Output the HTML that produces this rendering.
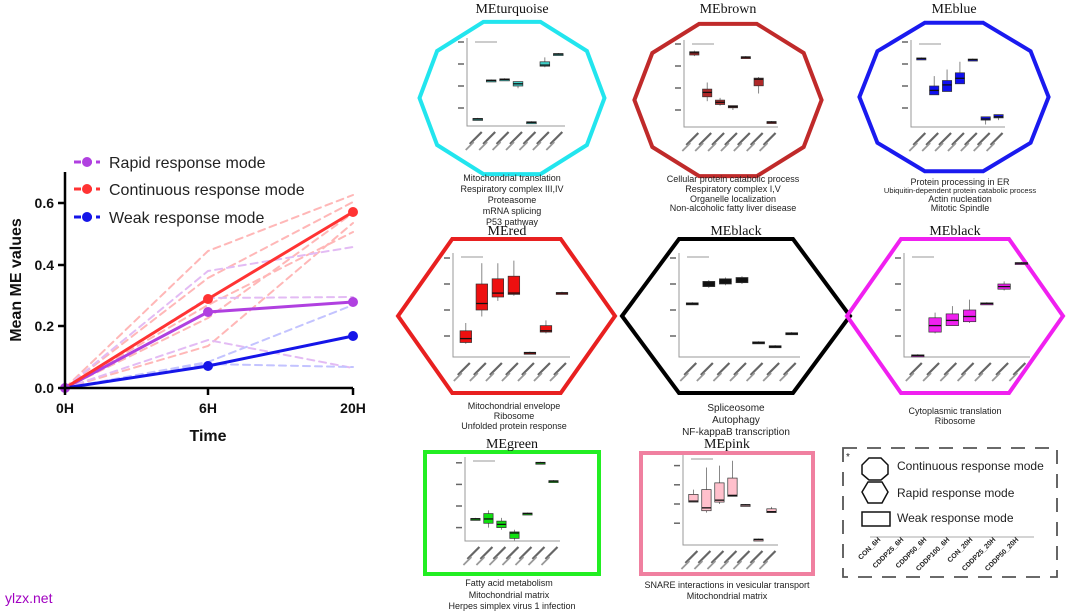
<!DOCTYPE html>
<html><head><meta charset="utf-8">
<style>
body{margin:0;background:#fff;}
svg{display:block;font-family:"Liberation Sans",Arial,sans-serif;}
.t{font-family:"Liberation Serif",serif;font-size:14px;text-anchor:middle;fill:#111}
.d{font-size:9px;text-anchor:middle;fill:#222}
</style></head><body>
<svg id="s" width="1080" height="612" viewBox="0 0 1080 612" xmlns="http://www.w3.org/2000/svg">
<rect width="1080" height="612" fill="#fff"/>
<g stroke-linecap="round">
<g fill="none" stroke-width="2" stroke-dasharray="7,5" opacity="0.35">
<polyline stroke="#f33" points="65,388 208,251 353,195"/>
<polyline stroke="#f33" points="65,388 208,278 353,202"/>
<polyline stroke="#f33" points="65,388 208,318 353,213"/>
<polyline stroke="#f33" points="65,388 208,346 353,223"/>
<polyline stroke="#f33" points="65,388 208,305 353,232"/>
<polyline stroke="#b040e0" points="65,388 208,271 353,247"/>
<polyline stroke="#b040e0" points="65,388 208,340 353,368"/>
<polyline stroke="#b040e0" points="65,388 208,298 353,297"/>
<polyline stroke="#55f" points="65,388 208,362 353,305"/>
<polyline stroke="#55f" points="65,388 208,364 353,367"/>
</g>
<polyline fill="none" stroke="#b040e0" stroke-width="3" points="65,388 208,312 353,302"/>
<polyline fill="none" stroke="#f33" stroke-width="3" points="65,388 208,299 353,212"/>
<polyline fill="none" stroke="#1515e8" stroke-width="3" points="65,388 208,366 353,336"/>
<circle cx="208" cy="312" r="5" fill="#b040e0"/><circle cx="353" cy="302" r="5" fill="#b040e0"/>
<circle cx="208" cy="299" r="5" fill="#f33"/><circle cx="353" cy="212" r="5" fill="#f33"/>
<circle cx="208" cy="366" r="5" fill="#1515e8"/><circle cx="353" cy="336" r="5" fill="#1515e8"/>
<circle cx="65" cy="388" r="5" fill="#b040e0"/>
</g>
<g stroke="#000" stroke-width="2.5" fill="none">
<polyline points="65,172 65,388 353,388"/>
<line x1="58" y1="388" x2="65" y2="388"/><line x1="58" y1="326" x2="65" y2="326"/>
<line x1="58" y1="265" x2="65" y2="265"/><line x1="58" y1="203" x2="65" y2="203"/>
<line x1="65" y1="388" x2="65" y2="395"/><line x1="208" y1="388" x2="208" y2="395"/><line x1="353" y1="388" x2="353" y2="395"/>
</g>
<g font-size="14" font-weight="bold" text-anchor="end" fill="#111">
<text x="54" y="393">0.0</text><text x="54" y="331">0.2</text><text x="54" y="270">0.4</text><text x="54" y="208">0.6</text>
</g>
<g font-size="14" font-weight="bold" text-anchor="middle" fill="#111">
<text x="65" y="413">0H</text><text x="208" y="413">6H</text><text x="353" y="413">20H</text>
<text x="208" y="441" font-size="16">Time</text>
<text transform="translate(21,280) rotate(-90)" font-size="16">Mean ME values</text>
</g>
<g stroke-width="3" stroke-dasharray="7,4">
<line x1="74" y1="162" x2="100" y2="162" stroke="#b040e0"/>
<line x1="74" y1="189" x2="100" y2="189" stroke="#f33"/>
<line x1="74" y1="217" x2="100" y2="217" stroke="#1515e8"/>
</g>
<circle cx="87" cy="162" r="5" fill="#b040e0"/><circle cx="87" cy="189" r="5" fill="#f33"/><circle cx="87" cy="217" r="5" fill="#1515e8"/>
<g font-size="16" fill="#222">
<text x="109" y="168">Rapid response mode</text>
<text x="109" y="195">Continuous response mode</text>
<text x="109" y="223">Weak response mode</text>
</g>
<text x="5" y="603" font-size="14" fill="#a000c0">ylzx.net</text>

<g id="shapes" fill="none" stroke-width="4"></g>
<g id="plots"></g>

<text class="t" x="512" y="13">MEturquoise</text>
<text class="t" x="728" y="13">MEbrown</text>
<text class="t" x="954" y="13">MEblue</text>
<text class="t" x="507" y="235">MEred</text>
<text class="t" x="736" y="235">MEblack</text>
<text class="t" x="955" y="235">MEblack</text>
<text class="t" x="512" y="448">MEgreen</text>
<text class="t" x="727" y="448">MEpink</text>

<g class="d">
<text class="d" x="512" y="181">Mitochondrial translation</text>
<text class="d" x="512" y="192">Respiratory complex III,IV</text>
<text class="d" x="512" y="203">Proteasome</text>
<text class="d" x="512" y="214">mRNA splicing</text>
<text class="d" x="512" y="225">P53 pathway</text>
<text class="d" x="733" y="182">Cellular protein catabolic process</text>
<text class="d" x="733" y="192">Respiratory complex I,V</text>
<text class="d" x="733" y="202">Organelle localization</text>
<text class="d" x="733" y="211">Non-alcoholic fatty liver disease</text>
<text class="d" x="960" y="185">Protein processing in ER</text>
<text class="d" x="960" y="193" style="font-size:7.5px">Ubiquitin-dependent protein catabolic process</text>
<text class="d" x="960" y="202">Actin nucleation</text>
<text class="d" x="960" y="211">Mitotic Spindle</text>
<text class="d" x="514" y="409">Mitochondrial envelope</text>
<text class="d" x="514" y="419">Ribosome</text>
<text class="d" x="514" y="429">Unfolded protein response</text>
<text class="d" x="736" y="411" style="font-size:10px">Spliceosome</text>
<text class="d" x="736" y="423" style="font-size:10px">Autophagy</text>
<text class="d" x="736" y="435" style="font-size:10px">NF-kappaB transcription</text>
<text class="d" x="955" y="414">Cytoplasmic translation</text>
<text class="d" x="955" y="424">Ribosome</text>
<text class="d" x="509" y="586">Fatty acid metabolism</text>
<text class="d" x="509" y="598">Mitochondrial matrix</text>
<text class="d" x="512" y="609">Herpes simplex virus 1 infection</text>
<text class="d" x="727" y="588">SNARE interactions in vesicular transport</text>
<text class="d" x="727" y="599">Mitochondrial matrix</text>
</g>

<rect x="843" y="448" width="214" height="129" fill="none" stroke="#555" stroke-width="1.8" stroke-dasharray="14,10"/>
<text x="846" y="460" font-size="10" fill="#222">*</text>
<polygon points="869,458 881,458 888,465 888,474 881,480 869,480 862,474 862,465" fill="none" stroke="#111" stroke-width="1.5"/>
<polygon points="862,492 868,482 882,482 888,492 882,503 868,503" fill="none" stroke="#111" stroke-width="1.5"/>
<rect x="862" y="512" width="28" height="14" fill="none" stroke="#111" stroke-width="1.5"/>
<g font-size="12" fill="#222">
<text x="897" y="470">Continuous response mode</text>
<text x="897" y="497">Rapid response mode</text>
<text x="897" y="522">Weak response mode</text>
</g>
<line x1="870" y1="537" x2="1034" y2="537" stroke="#aaa"/>
<g font-size="7" fill="#222" font-weight="bold">
<text transform="translate(881,540) rotate(-45)" text-anchor="end">CON_6H</text>
<text transform="translate(904,540) rotate(-45)" text-anchor="end">CDDP25_6H</text>
<text transform="translate(927,540) rotate(-45)" text-anchor="end">CDDP50_6H</text>
<text transform="translate(950,540) rotate(-45)" text-anchor="end">CDDP100_6H</text>
<text transform="translate(973,540) rotate(-45)" text-anchor="end">CON_20H</text>
<text transform="translate(996,540) rotate(-45)" text-anchor="end">CDDP25_20H</text>
<text transform="translate(1019,540) rotate(-45)" text-anchor="end">CDDP50_20H</text>
</g>
</svg>
<script>
var NS="http://www.w3.org/2000/svg";
function el(p,n,a){var e=document.createElementNS(NS,n);for(var k in a)e.setAttribute(k,a[k]);p.appendChild(e);return e;}
var sh=document.getElementById('shapes'),pl=document.getElementById('plots');
function deca(cx,cy,rx,ry,c){var p=[];for(var i=0;i<10;i++){var a=(-90+18+36*i)*Math.PI/180;p.push((cx+rx*Math.cos(a)/Math.cos(Math.PI/10)).toFixed(1)+","+(cy+ry*Math.sin(a)).toFixed(1));}el(sh,'polygon',{points:p.join(' '),stroke:c});}
function hex(x0,x1,y0,y1,c){var w=x1-x0,ym=(y0+y1)/2,i=w*0.25;el(sh,'polygon',{points:[x0,ym,x0+i,y0,x1-i,y0,x1,ym,x1-i,y1,x0+i,y1].join(' '),stroke:c});}
deca(512,98,88,80,'#22e5ee');
deca(728,100,89,80,'#c02a2a');
deca(954,97,90,78,'#1a1aef');
hex(398,615,239,393,'#e82020');
hex(622,850,239,393,'#000');
hex(847,1063,239,393,'#f020f0');
el(sh,'rect',{x:425,y:452,width:174,height:122,stroke:'#22ee22'});
el(sh,'rect',{x:641,y:453,width:172,height:121,stroke:'#f080a0'});
function panel(ax,top,bot,xe,y0,sc,col,bx){
 var g=el(pl,'g',{});
 el(g,'polyline',{points:ax+","+top+" "+ax+","+bot+" "+xe+","+bot,fill:'none',stroke:'#999','stroke-width':1});
 [0.4,0.2,0,-0.2].forEach(function(v){var y=y0-v*sc;if(y>top&&y<bot)el(g,'line',{x1:ax-9,x2:ax-3,y1:y,y2:y,stroke:'#666','stroke-width':1.5});});
 el(g,'line',{x1:ax+8,x2:ax+30,y1:top+4,y2:top+4,stroke:'#bbb','stroke-width':1.5});
 var n=bx.length,step=(xe-ax)/(n+0.3),bw=step*0.72;
 for(var i=0;i<n;i++){var b=bx[i],cx=ax+step*(i+0.8);
  function Y(v){return y0-v*sc;}
  el(g,'line',{x1:cx,x2:cx,y1:Y(b[4]),y2:Y(b[3]),stroke:'#555','stroke-width':0.7});
  var h=Math.max(Y(b[0])-Y(b[1]),2);
  el(g,'rect',{x:cx-bw/2,y:Y(b[1]),width:bw,height:h,fill:col,stroke:'#333','stroke-width':0.7});
  el(g,'line',{x1:cx-bw/2,x2:cx+bw/2,y1:Y(b[2]),y2:Y(b[2]),stroke:'#111','stroke-width':1.3});
  el(g,'line',{x1:cx-8,x2:cx+4,y1:bot+18,y2:bot+6,stroke:'#666','stroke-width':2.2});
  el(g,'line',{x1:cx-12,x2:cx-4,y1:bot+24,y2:bot+16,stroke:'#999','stroke-width':1.8});
 }
}
function t(v){return [v-0.005,v+0.005,v,v-0.01,v+0.01];}
panel(467,38,126,565,86,110,'#40d0c8',[t(-0.3),t(0.05),t(0.06),[0,0.04,0.02,-0.02,0.04],t(-0.33),[0.18,0.22,0.19,0.17,0.26],t(0.29)]);
panel(684,40,127,778,88,110,'#b02828',[[0.3,0.33,0.32,0.29,0.34],[-0.08,-0.01,-0.04,-0.12,0.05],[-0.15,-0.11,-0.13,-0.16,-0.09],[-0.18,-0.16,-0.17,-0.2,-0.16],t(0.28),[0.02,0.09,0.08,-0.05,0.1],t(-0.31)]);
panel(911,40,127,1005,86,110,'#1010f0',[t(0.25),[-0.08,0.0,-0.04,-0.08,0.09],[-0.05,0.05,0.01,-0.05,0.15],[0.02,0.12,0.07,0.02,0.22],t(0.24),[-0.31,-0.28,-0.3,-0.35,-0.28],[-0.29,-0.26,-0.28,-0.31,-0.26]]);
panel(453,253,357,570,310,130,'#ee1010',[[-0.25,-0.16,-0.22,-0.26,-0.1],[0.0,0.2,0.05,-0.05,0.36],[0.1,0.24,0.13,0.07,0.36],[0.12,0.26,0.13,0.11,0.38],t(-0.33),[-0.17,-0.12,-0.16,-0.18,-0.08],t(0.13)]);
panel(679,253,357,800,310,130,'#111',[t(0.05),[0.18,0.22,0.2,0.17,0.23],[0.2,0.24,0.22,0.19,0.25],[0.21,0.25,0.23,0.2,0.26],t(-0.25),t(-0.28),t(-0.18)]);
panel(904,253,357,1030,310,130,'#f020f0',[t(-0.35),[-0.17,-0.06,-0.12,-0.18,-0.02],[-0.12,-0.03,-0.08,-0.12,0.03],[-0.09,0.0,-0.05,-0.1,0.08],t(0.05),[0.16,0.2,0.18,0.15,0.22],t(0.36)]);
panel(465,457,541,560,506,108,'#10e010',[t(-0.12),[-0.16,-0.07,-0.12,-0.2,-0.04],[-0.2,-0.14,-0.17,-0.22,-0.11],[-0.3,-0.24,-0.25,-0.32,-0.22],t(-0.07),t(0.4),t(0.23)]);
panel(683,455,545,778,504,96,'#ffc0cc',[[0.02,0.1,0.03,0.02,0.15],[-0.07,0.15,-0.04,-0.09,0.38],[0.02,0.22,0.04,0.0,0.4],[0.08,0.27,0.09,0.08,0.45],t(-0.01),t(-0.37),[-0.09,-0.05,-0.08,-0.09,-0.03]]);
</script>
</body></html>
